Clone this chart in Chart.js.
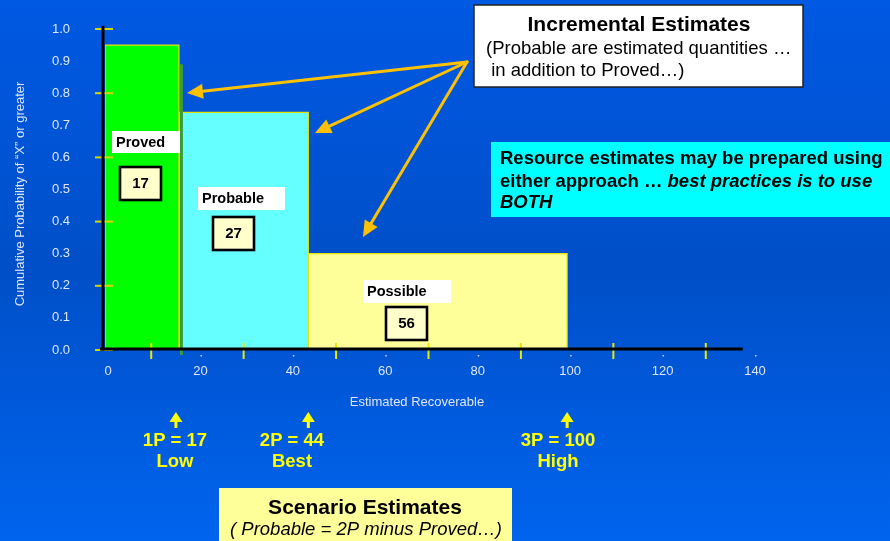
<!DOCTYPE html>
<html>
<head>
<meta charset="utf-8">
<script src="https://cdn.jsdelivr.net/npm/chart.js@4"></script>
<style>
html,body{margin:0;padding:0;background:#0052cc;}
#wrap{position:relative;width:890px;height:541px;}
canvas{display:block;}
</style>
</head>
<body>
<div id="wrap"><canvas id="c" width="890" height="541"></canvas></div>
<script>
// ---- data ----
const categories = ['Proved', 'Probable', 'Possible'];
const edges = [0, 16, 44, 100];            // estimated recoverable boundaries
const probs = [0.95, 0.74, 0.30];          // cumulative probability of each band
const volumes = [17, 27, 56];              // incremental volumes
const scenarioLabels = ['1P = 17', '2P = 44', '3P = 100'];
const scenarioNames = ['Low', 'Best', 'High'];
const yTicks = [0, 0.1, 0.2, 0.3, 0.4, 0.5, 0.6, 0.7, 0.8, 0.9, 1.0];
const xTicks = [0, 20, 40, 60, 80, 100, 120, 140];
const yMajor = [0, 0.2, 0.4, 0.6, 0.8, 1.0];
const xMinor = [10, 30, 50, 70, 90, 110, 130];

const FONT = 'Arial, "Liberation Sans", Helvetica, sans-serif';
const fills = ['#00ff00', '#66ffff', '#ffff99'];

const datasets = categories.map((name, i) => ({
  label: name,
  data: [
    {x: edges[i], y: 0}, {x: edges[i], y: probs[i]},
    {x: edges[i + 1], y: probs[i]}, {x: edges[i + 1], y: 0}
  ],
  backgroundColor: fills[i],
  borderColor: '#e4e400',
  borderWidth: 1.2,
  fill: 'origin',
  pointRadius: 0,
  tension: 0,
  order: i
}));

const bgPlugin = {
  id: 'bg',
  beforeDraw(chart) {
    const ctx = chart.ctx;
    const g = ctx.createLinearGradient(0, 0, 0, chart.height);
    g.addColorStop(0, '#0059e3');
    g.addColorStop(0.5, '#004fc8');
    g.addColorStop(1, '#0064ee');
    ctx.save();
    ctx.fillStyle = g;
    ctx.fillRect(0, 0, chart.width, chart.height);
    ctx.restore();
  }
};

function txt(ctx, s, x, y, font, color, align) {
  ctx.font = font;
  ctx.fillStyle = color;
  ctx.textAlign = align || 'left';
  ctx.textBaseline = 'middle';
  ctx.fillText(s, x, y);
}
function box(ctx, x, y, w, h, fill, stroke, lw) {
  ctx.fillStyle = fill;
  ctx.fillRect(x, y, w, h);
  if (stroke) {
    ctx.strokeStyle = stroke;
    ctx.lineWidth = lw;
    ctx.strokeRect(x, y, w, h);
  }
}
function arrow(ctx, x0, y0, x1, y1, color, lw, hl, hw) {
  const a = Math.atan2(y1 - y0, x1 - x0);
  const bx = x1 - hl * Math.cos(a), by = y1 - hl * Math.sin(a);
  ctx.strokeStyle = color;
  ctx.lineWidth = lw;
  ctx.lineCap = 'round';
  ctx.beginPath();
  ctx.moveTo(x0, y0);
  ctx.lineTo(bx, by);
  ctx.stroke();
  ctx.fillStyle = color;
  ctx.beginPath();
  ctx.moveTo(x1, y1);
  ctx.lineTo(bx + hw * Math.sin(a), by - hw * Math.cos(a));
  ctx.lineTo(bx - hw * Math.sin(a), by + hw * Math.cos(a));
  ctx.closePath();
  ctx.fill();
}

const decoPlugin = {
  id: 'deco',
  afterDatasetsDraw(chart) {
    const ctx = chart.ctx;
    const xs = chart.scales.x, ys = chart.scales.y;
    ctx.save();
    // shadow strip at right of Proved band
    const sx = xs.getPixelForValue(edges[1]) + 1;
    const sTop = ys.getPixelForValue(probs[0] - 0.06);
    ctx.fillStyle = '#3c9c3c';
    ctx.fillRect(sx, sTop, 3, ys.getPixelForValue(0) + 5 - sTop);

    // yellow major ticks on y axis
    ctx.strokeStyle = '#d6d600';
    ctx.lineWidth = 2;
    yMajor.forEach(v => {
      const y = ys.getPixelForValue(v);
      ctx.beginPath(); ctx.moveTo(95, y); ctx.lineTo(113, y); ctx.stroke();
    });
    // yellow minor ticks on x axis
    ctx.strokeStyle = '#e8e800';
    xMinor.forEach(v => {
      const x = xs.getPixelForValue(v);
      ctx.beginPath(); ctx.moveTo(x, 343); ctx.lineTo(x, 359); ctx.stroke();
    });
    // small dots at label positions
    ctx.fillStyle = '#c8d4f0';
    xTicks.slice(1).forEach(v => {
      const x = xs.getPixelForValue(v) + 3;
      ctx.fillRect(x, 355, 1.5, 1.5);
    });
    // black axes
    ctx.strokeStyle = '#000';
    ctx.lineWidth = 3;
    ctx.lineCap = 'butt';
    const y0 = ys.getPixelForValue(0) - 1;
    ctx.beginPath();
    ctx.moveTo(103, ys.getPixelForValue(1.01));
    ctx.lineTo(103, y0 + 1.5);
    ctx.stroke();
    ctx.beginPath();
    ctx.moveTo(100, y0);
    ctx.lineTo(xs.getPixelForValue(138), y0);
    ctx.stroke();
    ctx.restore();
  },
  afterDraw(chart) {
    const ctx = chart.ctx;
    const xs = chart.scales.x;
    ctx.save();
    // axis titles
    ctx.save();
    ctx.translate(20, 194);
    ctx.rotate(-Math.PI / 2);
    txt(ctx, 'Cumulative Probability of \u201cX\u201d or greater', 0, 0, '13px ' + FONT, '#dde6fa', 'center');
    ctx.restore();
    txt(ctx, 'Estimated Recoverable', 417, 402, '13px ' + FONT, '#dde6fa', 'center');

    // band labels
    const bl = [
      {bx: 112, by: 131, bw: 68, bh: 22, nx: 120, ny: 167},
      {bx: 198, by: 187, bw: 87, bh: 23, nx: 213, ny: 217},
      {bx: 363, by: 280, bw: 88, bh: 23, nx: 386, ny: 307}
    ];
    bl.forEach((b, i) => {
      box(ctx, b.bx, b.by, b.bw, b.bh, '#ffffff');
      txt(ctx, categories[i], b.bx + 4, b.by + b.bh / 2 + 0.5, 'bold 14.5px ' + FONT, '#000');
      box(ctx, b.nx, b.ny, 41, 33, '#ffffcc', '#000', 2.6);
      txt(ctx, String(volumes[i]), b.nx + 20.5, b.ny + 17, 'bold 15px ' + FONT, '#000', 'center');
    });

    // orange arrows
    const org = [467, 62];
    const tips = [[187, 93], [315, 133], [363, 237]];
    tips.forEach(t => arrow(ctx, org[0], org[1], t[0], t[1], '#ffc000', 3, 16, 7.5));

    // Incremental Estimates box
    box(ctx, 474, 5, 329, 82, '#ffffff', '#222', 1.5);
    txt(ctx, 'Incremental Estimates', 639, 25, 'bold 21px ' + FONT, '#000', 'center');
    txt(ctx, '(Probable are estimated quantities \u2026', 486, 49, '18.5px ' + FONT, '#000');
    txt(ctx, ' in addition to Proved\u2026)', 486, 71, '18.5px ' + FONT, '#000');

    // cyan box
    box(ctx, 491, 142, 399, 75, '#00ffff');
    txt(ctx, 'Resource estimates may be prepared using', 500, 159, 'bold 18.5px ' + FONT, '#000');
    ctx.font = 'bold 18.5px ' + FONT;
    const p1 = 'either approach \u2026 ';
    const w1 = ctx.measureText(p1).width;
    txt(ctx, p1, 500, 182, 'bold 18.5px ' + FONT, '#000');
    txt(ctx, 'best practices is to use', 500 + w1, 182, 'italic bold 18.5px ' + FONT, '#000');
    txt(ctx, 'BOTH', 500, 203, 'italic bold 18.5px ' + FONT, '#000');

    // scenario markers
    const lx = [175, 292, 558];
    scenarioLabels.forEach((s, i) => {
      const ax = xs.getPixelForValue(edges[i + 1]) - (i === 0 ? 3 : 0);
      ctx.fillStyle = '#ffff00';
      ctx.beginPath();
      ctx.moveTo(ax, 412); ctx.lineTo(ax + 6.5, 422); ctx.lineTo(ax - 6.5, 422); ctx.closePath();
      ctx.fill();
      ctx.fillRect(ax - 1.5, 421, 3, 7);
      txt(ctx, s, lx[i], 441, 'bold 18.5px ' + FONT, '#ffff00', 'center');
      txt(ctx, scenarioNames[i], lx[i], 462, 'bold 18.5px ' + FONT, '#ffff00', 'center');
    });

    // Scenario box
    box(ctx, 219, 488, 293, 60, '#ffff99');
    txt(ctx, 'Scenario Estimates', 365, 508, 'bold 21px ' + FONT, '#000', 'center');
    txt(ctx, '( Probable = 2P minus Proved\u2026)', 366, 530, 'italic 18.5px ' + FONT, '#000', 'center');
    ctx.restore();
  }
};

new Chart(document.getElementById('c'), {
  type: 'line',
  data: { datasets },
  plugins: [bgPlugin, decoPlugin],
  options: {
    responsive: false,
    animation: false,
    devicePixelRatio: 1,
    layout: { padding: { left: 52, right: 138, top: 29, bottom: 0 } },
    plugins: { legend: { display: false }, tooltip: { enabled: false }, title: { display: false } },
    events: [],
    scales: {
      x: {
        type: 'linear', min: 0, max: 140,
        grid: { display: false, drawTicks: false },
        border: { display: false },
        afterBuildTicks: s => { s.ticks = xTicks.map(v => ({ value: v })); },
        afterFit: s => { s.height = 191; },
        ticks: { color: '#dde6fa', font: { family: FONT, size: 13 }, padding: 14, labelOffset: 3, maxRotation: 0, autoSkip: false,
                 callback: v => String(v) }
      },
      y: {
        type: 'linear', min: 0, max: 1,
        grid: { display: false, drawTicks: false },
        border: { display: false },
        afterBuildTicks: s => { s.ticks = yTicks.map(v => ({ value: v })); },
        afterFit: s => { s.width = 53; },
        ticks: { color: '#dde6fa', font: { family: FONT, size: 13 }, padding: 0, crossAlign: 'far', autoSkip: false,
                 callback: v => Number(v).toFixed(1) }
      }
    }
  }
});
</script>
</body>
</html>
